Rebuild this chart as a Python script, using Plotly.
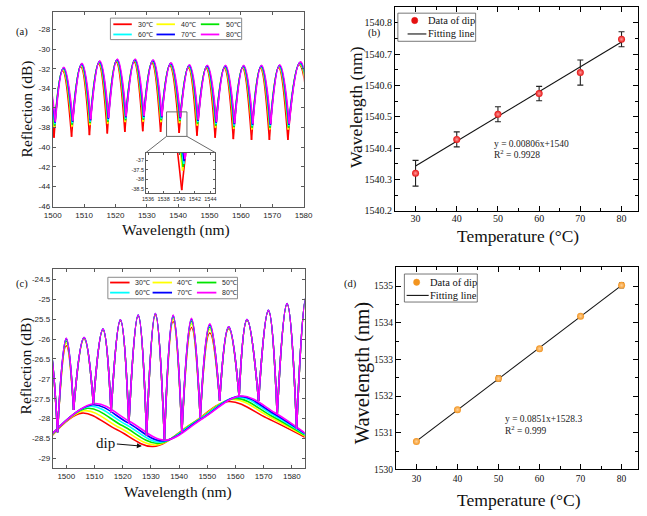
import plotly.graph_objects as go

W, H = 647, 516

# ---------------- data ----------------
temps = ['30℃', '40℃', '50℃', '60℃', '70℃', '80℃']
line_colors = ['#ff0000', '#ffff00', '#00e600', '#00ffff', '#0000ff', '#ff00ff']
temperature = [30, 40, 50, 60, 70, 80]

# (b) dip wavelength of spectrum (a) vs temperature
dip_b = [1540.320, 1540.428, 1540.508, 1540.574, 1540.641, 1540.747]
err_b = [0.041, 0.024, 0.024, 0.023, 0.040, 0.024]
fit_b_x = [30, 80]
fit_b_y = [1540.343, 1540.738]

# (d) dip wavelength of spectrum (c) vs temperature
dip_d = [1530.76, 1531.63, 1532.48, 1533.29, 1534.18, 1535.02]
err_d = [0.04, 0.03, 0.07, 0.05, 0.03, 0.07]
fit_d_x = [30, 80]
fit_d_y = [1530.77, 1535.02]

# (a) reflection spectrum: dip / peak wavelengths at 30 C (first and last dip lie outside the view)
a_dip_wl = [1494.6, 1500.4, 1506.0, 1511.7, 1517.4, 1523.0, 1528.7, 1534.4, 1540.32,
            1546.0, 1551.8, 1557.6, 1563.4, 1569.1, 1575.0, 1582.5]
a_peak_wl = [1497.5, 1503.1, 1508.9, 1514.6, 1520.2, 1525.9, 1531.6, 1537.3, 1543.2,
             1548.9, 1554.7, 1560.5, 1566.2, 1572.0, 1578.6]
a_dip_db = [
    [-39.0, -39.04, -38.94, -38.77, -38.60, -38.44, -38.37, -38.44, -38.56, -38.84, -39.04, -39.18, -39.25, -39.25, -39.25, -39.2],
    [-38.0, -38.00, -37.90, -37.75, -37.60, -37.45, -37.40, -37.45, -37.55, -37.80, -38.00, -38.15, -38.20, -38.20, -38.20, -38.2],
    [-37.8, -37.80, -37.70, -37.55, -37.40, -37.25, -37.20, -37.25, -37.35, -37.60, -37.80, -37.95, -38.00, -38.00, -38.00, -38.0],
    [-37.6, -37.65, -37.55, -37.40, -37.25, -37.10, -37.05, -37.10, -37.20, -37.45, -37.65, -37.80, -37.85, -37.85, -37.85, -37.8],
    [-37.5, -37.50, -37.40, -37.25, -37.10, -36.95, -36.90, -36.95, -37.05, -37.30, -37.50, -37.65, -37.70, -37.70, -37.70, -37.7],
    [-37.4, -37.40, -37.30, -37.15, -37.00, -36.85, -36.80, -36.85, -36.95, -37.20, -37.40, -37.55, -37.60, -37.60, -37.60, -37.6],
]
a_peak_db = [
    [-32.6, -32.20, -31.80, -31.50, -31.30, -31.30, -31.40, -31.70, -31.90, -31.95, -31.95, -31.95, -31.95, -31.90, -31.60],
    [-32.5, -32.10, -31.70, -31.40, -31.20, -31.20, -31.30, -31.60, -31.80, -31.85, -31.85, -31.85, -31.85, -31.80, -31.50],
    [-32.45, -32.00, -31.60, -31.35, -31.15, -31.15, -31.25, -31.55, -31.75, -31.80, -31.80, -31.80, -31.80, -31.75, -31.45],
    [-32.4, -31.95, -31.55, -31.30, -31.10, -31.10, -31.20, -31.50, -31.70, -31.75, -31.75, -31.75, -31.75, -31.70, -31.40],
    [-32.35, -31.90, -31.50, -31.25, -31.05, -31.05, -31.15, -31.45, -31.65, -31.70, -31.70, -31.70, -31.70, -31.65, -31.35],
    [-32.3, -31.85, -31.45, -31.20, -31.00, -31.00, -31.10, -31.40, -31.60, -31.65, -31.65, -31.65, -31.65, -31.60, -31.30],
]

# (c) reflection spectrum: fringe valleys / peaks (first valley and peak, last valley outside view)
c_valley_wl = [1490.6, 1496.9, 1502.6, 1509.6, 1515.9, 1522.2, 1528.5, 1534.8, 1541.0,
               1547.5, 1554.4, 1561.3, 1568.2, 1574.8, 1581.7, 1588.7]
c_valley_db = [-28.40, -28.34, -27.78, -27.63, -27.84, -28.13, -28.42, -28.52, -28.35,
               -27.97, -27.55, -27.45, -27.55, -27.91, -28.26, -28.50]
c_peak_wl = [1493.7, 1500.0, 1506.3, 1513.0, 1519.2, 1525.5, 1531.6, 1537.9, 1544.4,
             1550.9, 1557.6, 1564.1, 1571.7, 1578.3, 1585.2]
c_peak_db = [
    [-26.05, -26.17, -26.00, -25.77, -25.54, -25.42, -25.40, -25.56, -25.71, -25.85, -25.74, -25.53, -25.30, -25.13, -24.92],
    [-26.04, -26.10, -25.99, -25.76, -25.53, -25.41, -25.38, -25.50, -25.62, -25.76, -25.72, -25.52, -25.29, -25.12, -24.91],
    [-26.02, -26.05, -25.98, -25.76, -25.53, -25.41, -25.37, -25.45, -25.56, -25.70, -25.71, -25.52, -25.29, -25.12, -24.91],
    [-26.01, -26.00, -25.97, -25.75, -25.52, -25.40, -25.36, -25.42, -25.52, -25.66, -25.70, -25.51, -25.28, -25.11, -24.90],
    [-26.00, -25.99, -25.96, -25.75, -25.52, -25.40, -25.36, -25.41, -25.50, -25.64, -25.69, -25.51, -25.28, -25.11, -24.90],
    [-26.00, -25.98, -25.96, -25.75, -25.52, -25.40, -25.36, -25.40, -25.48, -25.62, -25.69, -25.51, -25.28, -25.11, -24.90],
]
# (c) slowly varying envelope of each spectrum
env_x = [
    [1495, 1505.5, 1518.0, 1530.76, 1544.4, 1557.5, 1571.0, 1585],
    [1495, 1506.5, 1519.0, 1531.63, 1545.3, 1559.0, 1572.0, 1585],
    [1495, 1507.5, 1520.0, 1532.48, 1546.2, 1560.0, 1572.5, 1585],
    [1495, 1508.5, 1521.0, 1533.29, 1547.0, 1561.0, 1573.0, 1585],
    [1495, 1509.3, 1521.8, 1534.18, 1547.8, 1561.5, 1573.5, 1585],
    [1495, 1510.0, 1522.5, 1535.02, 1548.5, 1562.0, 1574.0, 1585],
]
env_y = [
    [-28.42, -27.86, -28.28, -28.70, -28.13, -27.57, -27.98, -28.48],
    [-28.41, -27.80, -28.23, -28.66, -28.09, -27.52, -27.95, -28.45],
    [-28.40, -27.74, -28.18, -28.62, -28.06, -27.49, -27.92, -28.43],
    [-28.39, -27.69, -28.14, -28.59, -28.03, -27.46, -27.89, -28.41],
    [-28.38, -27.65, -28.10, -28.56, -28.01, -27.44, -27.87, -28.39],
    [-28.38, -27.62, -28.07, -28.54, -27.99, -27.43, -27.85, -28.38],
]

# tick labels
a_xticks = [1500, 1510, 1520, 1530, 1540, 1550, 1560, 1570, 1580]
a_yticks = [-46, -44, -42, -40, -38, -36, -34, -32, -30, -28]
inset_xticks = [1536, 1538, 1540, 1542, 1544]
inset_yticks = [-38.5, -38, -37.5, -37]
c_yticks = [-29, -28.5, -28, -27.5, -27, -26.5, -26, -25.5, -25, -24.5]
b_yticks = [1540.2, 1540.3, 1540.4, 1540.5, 1540.6, 1540.7, 1540.8]
d_yticks = [1530, 1531, 1532, 1533, 1534, 1535]

# ---------------- layout helpers ----------------
def px_dom_x(a, b):
    return [a / W, min(b / W, 1.0)]

def px_dom_y(top, bottom):
    return [1 - bottom / H, 1 - top / H]

def fmt(v):
    return ('%g' % v)

def lobes(vx, vy, px, py):
    xs, ys = [], []
    for k in range(len(px)):
        xs += [vx[k], px[k], vx[k + 1], None]
        ys += [vy[k], py[k], vy[k + 1], None]
    return xs, ys

dom = {
    'x': px_dom_x(45, 303), 'y': px_dom_y(12, 209),
    'x2': px_dom_x(397, 647), 'y2': px_dom_y(7, 213),
    'x3': px_dom_x(45, 304), 'y3': px_dom_y(272, 473),
    'x4': px_dom_x(398, 647), 'y4': px_dom_y(270, 474),
    'x5': px_dom_x(141, 212), 'y5': px_dom_y(154, 195),
}
rng = {
    'x': [1500, 1580], 'y': [-46.1, -26.2],
    'x2': [25, 84], 'y2': [1540.2, 1540.85],
    'x3': [1495.2, 1584.5], 'y3': [-29.25, -24.25],
    'x4': [25, 84], 'y4': [1530, 1535.51],
    'x5': [1535.75, 1544.6], 'y5': [-38.72, -36.6],
}

fig = go.Figure()

# (a) spectra + inset
for i in range(6):
    shift = dip_b[i] - dip_b[0]
    vx = [w + shift for w in a_dip_wl]
    pxl = [w + shift for w in a_peak_wl]
    xs, ys = lobes(vx, a_dip_db[i], pxl, a_peak_db[i])
    for xa, ya in (('x', 'y'), ('x5', 'y5')):
        fig.add_trace(go.Scatter(x=xs, y=ys, xaxis=xa, yaxis=ya, mode='lines', name=temps[i],
                                 line=dict(color=line_colors[i], width=1.6, shape='spline', smoothing=1.3),
                                 connectgaps=False, showlegend=False, hoverinfo='skip'))

# (c) spectra
for i in range(6):
    fig.add_trace(go.Scatter(x=env_x[i], y=env_y[i], xaxis='x3', yaxis='y3', mode='lines', name=temps[i],
                             line=dict(color=line_colors[i], width=1.6, shape='spline', smoothing=1.0),
                             showlegend=False, hoverinfo='skip'))
for i in range(6):
    xs, ys = lobes(c_valley_wl, c_valley_db, c_peak_wl, c_peak_db[i])
    fig.add_trace(go.Scatter(x=xs, y=ys, xaxis='x3', yaxis='y3', mode='lines', name=temps[i],
                             line=dict(color=line_colors[i], width=1.6, shape='spline', smoothing=1.3),
                             connectgaps=False, showlegend=False, hoverinfo='skip'))

# (b)
fig.add_trace(go.Scatter(x=fit_b_x, y=fit_b_y, xaxis='x2', yaxis='y2', mode='lines', name='Fitting line',
                         line=dict(color='#111111', width=1.1), showlegend=False))
fig.add_trace(go.Scatter(x=temperature, y=dip_b, xaxis='x2', yaxis='y2', mode='markers', name='Data of dip',
                         marker=dict(color='#e51010', size=7, gradient=dict(type='radial', color='#ff9c9c')),
                         error_y=dict(type='data', array=err_b, color='#222222', thickness=1.1, width=3),
                         showlegend=False))
# (d)
fig.add_trace(go.Scatter(x=fit_d_x, y=fit_d_y, xaxis='x4', yaxis='y4', mode='lines', name='Fitting line',
                         line=dict(color='#111111', width=1.1), showlegend=False))
fig.add_trace(go.Scatter(x=temperature, y=dip_d, xaxis='x4', yaxis='y4', mode='markers', name='Data of dip',
                         marker=dict(symbol='circle', color='#f29420', size=7,
                                     gradient=dict(type='radial', color='#ffd29a')),
                         error_y=dict(type='data', array=err_d, color='#333333', thickness=1, width=2.5),
                         showlegend=False))

# ---------------- axes ----------------
serif = 'Liberation Serif, Times New Roman, serif'
sans = 'Liberation Sans, Arial, sans-serif'
ml_axis = dict(showline=True, linecolor='#5a5a5a', linewidth=1, mirror='ticks', ticks='inside',
               ticklen=3, tickcolor='#5a5a5a', tickfont=dict(family=sans, size=8, color='#262626'),
               showgrid=False, zeroline=False, tickangle=0)
og_axis = dict(showline=True, linecolor='#000000', linewidth=1, mirror='ticks', ticks='inside',
               ticklen=5, tickcolor='#000000', showgrid=False, zeroline=False, tickangle=0)
og_minor = dict(ticks='inside', ticklen=3, tickcolor='#000000')
inset_font = dict(family=sans, size=5.5, color='#262626')

layout_axes = {}
layout_axes['xaxis'] = dict(ml_axis, domain=dom['x'], range=rng['x'], anchor='y', tickvals=a_xticks,
                            ticktext=[fmt(v) for v in a_xticks])
layout_axes['yaxis'] = dict(ml_axis, domain=dom['y'], range=rng['y'], anchor='x', tickvals=a_yticks,
                            ticktext=[fmt(v) for v in a_yticks])
layout_axes['xaxis5'] = dict(ml_axis, domain=dom['x5'], range=rng['x5'], anchor='y5', tickvals=inset_xticks,
                             ticktext=[fmt(v) for v in inset_xticks], ticklen=2, tickfont=inset_font)
layout_axes['yaxis5'] = dict(ml_axis, domain=dom['y5'], range=rng['y5'], anchor='x5', tickvals=inset_yticks,
                             ticktext=[fmt(v) for v in inset_yticks], ticklen=2, tickfont=inset_font)
layout_axes['xaxis3'] = dict(ml_axis, domain=dom['x3'], range=rng['x3'], anchor='y3', tickvals=a_xticks,
                             ticktext=[fmt(v) for v in a_xticks])
layout_axes['yaxis3'] = dict(ml_axis, domain=dom['y3'], range=rng['y3'], anchor='x3', tickvals=c_yticks,
                             ticktext=[fmt(v) for v in c_yticks])
layout_axes['xaxis2'] = dict(og_axis, domain=dom['x2'], range=rng['x2'], anchor='y2', tickvals=temperature,
                             ticktext=[str(v) for v in temperature], ticklabelstandoff=-2,
                             tickfont=dict(family=serif, size=10, color='#111111'),
                             minor=dict(og_minor, dtick=5, tick0=25))
layout_axes['yaxis2'] = dict(og_axis, domain=dom['y2'], range=rng['y2'], anchor='x2', tickvals=b_yticks,
                             ticktext=['%.1f' % v for v in b_yticks],
                             tickfont=dict(family=serif, size=10, color='#111111'),
                             minor=dict(og_minor, dtick=0.05, tick0=1540.2))
layout_axes['xaxis4'] = dict(og_axis, domain=dom['x4'], range=rng['x4'], anchor='y4', tickvals=temperature,
                             ticktext=[str(v) for v in temperature],
                             tickfont=dict(family=serif, size=9.5, color='#111111'),
                             minor=dict(og_minor, dtick=5, tick0=25))
layout_axes['yaxis4'] = dict(og_axis, domain=dom['y4'], range=rng['y4'], anchor='x4', tickvals=d_yticks,
                             ticktext=[str(v) for v in d_yticks],
                             tickfont=dict(family=serif, size=9.5, color='#111111'),
                             minor=dict(og_minor, dtick=0.5, tick0=1530))

shapes = []
annotations = []

def P(xp, yp):
    return xp / W, 1 - yp / H

def to_paper(ax, v):
    d, r = dom[ax], rng[ax]
    return d[0] + (v - r[0]) / (r[1] - r[0]) * (d[1] - d[0])

def text_at(txt, xp, yp, size, family=serif, color='#111111', xanchor='center', angle=0):
    t = P(xp, yp)
    annotations.append(dict(xref='paper', yref='paper', x=t[0], y=t[1], text=txt, showarrow=False,
                            xanchor=xanchor, yanchor='middle', textangle=angle,
                            font=dict(family=family, size=size, color=color)))

# axis titles
text_at('Wavelength (nm)', 172, 232, 15.5)
text_at('Reflection (dB)', 18, 110, 15.5, angle=-90)
text_at('Wavelength (nm)', 174, 497, 15.5)
text_at('Reflection (dB)', 17.5, 370, 15.5, angle=-90)
text_at('Temperature (°C)', 524, 238.5, 17.4)
text_at('Wavelength (nm)', 357, 108, 17.5, angle=-90)
text_at('Temperature (°C)', 525, 505, 17.6)
text_at('Wavelength (nm)', 363, 377, 20.5, angle=-90)

# zoom box in (a) and connectors to inset
zx0, zx1, zy0, zy1 = 1536.3, 1542.8, -38.9, -36.4
shapes.append(dict(type='rect', xref='x', yref='y', x0=zx0, x1=zx1, y0=zy0, y1=zy1,
                   line=dict(color='#6a6a6a', width=1)))
for zx, ix in ((zx0, dom['x5'][0]), (zx1, dom['x5'][1])):
    shapes.append(dict(type='line', xref='paper', yref='paper', x0=to_paper('x', zx), y0=to_paper('y', zy0),
                       x1=ix, y1=dom['y5'][1], line=dict(color='#6a6a6a', width=1)))

# legends of (a) and (c) (MATLAB style, 3 columns x 2 rows)
def temp_legend(box, col_x, rows, line_len, text_dx):
    x0, y0, x1, y1 = box
    a, b = P(x0, y0)
    c, d = P(x1, y1)
    shapes.append(dict(type='rect', xref='paper', yref='paper', x0=a, y0=d, x1=c, y1=b,
                       line=dict(color='#8a8a8a', width=1), fillcolor='white', layer='above'))
    for k in range(6):
        r, cidx = divmod(k, 3)
        lx = col_x[cidx]
        yy = rows[r]
        p0 = P(lx, yy)
        p1 = P(lx + line_len, yy)
        shapes.append(dict(type='line', xref='paper', yref='paper', x0=p0[0], y0=p0[1], x1=p1[0], y1=p1[1],
                           line=dict(color=line_colors[k], width=1.8), layer='above'))
        text_at(temps[k], lx + text_dx, yy, 7, family=sans, color='#262626', xanchor='left')

temp_legend((104.3, 18.3, 239.3, 40.0), [107.3, 151.7, 197.3], [24.5, 34.8], 19, 23.5)
temp_legend((101.7, 280.0, 235.0, 301.7), [104.0, 147.7, 193.3], [285.3, 295.5], 20, 23.5)

# legends of (b) and (d) (Origin style)
def fit_legend(box, mk, mk_color, ln, txt_x, rows):
    x0, y0, x1, y1 = box
    a, b = P(x0, y0)
    c, d = P(x1, y1)
    shapes.append(dict(type='rect', xref='paper', yref='paper', x0=a, y0=d, x1=c, y1=b,
                       line=dict(color='#555555', width=0.8), fillcolor='white', layer='above'))
    cx, cy = mk
    q0 = P(cx - 3.2, cy - 3.2)
    q1 = P(cx + 3.2, cy + 3.2)
    shapes.append(dict(type='circle', xref='paper', yref='paper', x0=q0[0], y0=q1[1], x1=q1[0], y1=q0[1],
                       fillcolor=mk_color, line=dict(color=mk_color, width=0.5), layer='above'))
    l0 = P(ln[0], rows[1])
    l1 = P(ln[1], rows[1])
    shapes.append(dict(type='line', xref='paper', yref='paper', x0=l0[0], y0=l0[1], x1=l1[0], y1=l1[1],
                       line=dict(color='#111111', width=1.1), layer='above'))
    text_at('Data of dip', txt_x[0], rows[0], 10.5, xanchor='left')
    text_at('Fitting line', txt_x[1], rows[1], 10.5, xanchor='left')

fit_legend((400.0, 13.3, 480.0, 41.7), (417.3, 20.7), '#e51010', (410.0, 429.3), (428.5, 428.5), (20.7, 34.3))
fit_legend((406.7, 276.7, 481.7, 305.0), (419.3, 285.0), '#f29420', (409.0, 431.7), (431.5, 431.5), (285.0, 298.3))

# panel letters
for lab, xp, yp in (('(a)', 13, 32), ('(b)', 375.5, 33), ('(c)', 13, 287), ('(d)', 351, 287)):
    text_at(lab, xp, yp, 10.5)

# fit equations
for lines, xp, ys in ((['y = 0.00806x+1540', 'R<sup>2</sup> = 0.9928'], 497, (145, 155.5)),
                      (['y = 0.0851x+1528.3', 'R<sup>2</sup> = 0.999'], 508.3, (423.3, 433.8))):
    for txt, yp in zip(lines, ys):
        text_at(txt, xp, yp, 9.5, color='#222222', xanchor='left')

# "dip" label with arrow in (c)
tip_x, tip_y = 1526.8, -28.69
annotations.append(dict(xref='x3', yref='y3', x=tip_x, y=tip_y, ax=-36, ay=-3, axref='pixel', ayref='pixel',
                        text='dip', showarrow=True, arrowhead=2, arrowsize=0.9, arrowwidth=1.1,
                        arrowcolor='#111111', font=dict(family=serif, size=15, color='#111111')))

fig.update_layout(width=W, height=H, margin=dict(l=0, r=0, t=0, b=0),
                  paper_bgcolor='white', plot_bgcolor='white', showlegend=False,
                  shapes=shapes, annotations=annotations, **layout_axes)

fig.write_html('out.html', config={'displayModeBar': False},
               post_script="document.body.style.margin='0px';document.body.style.overflow='hidden';")
